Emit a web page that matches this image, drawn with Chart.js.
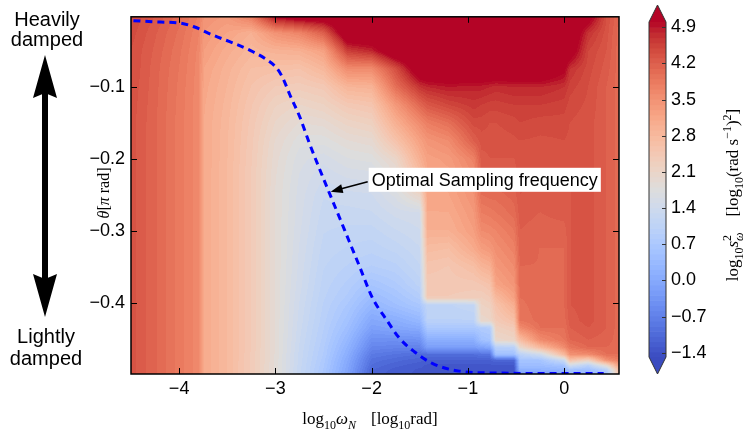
<!DOCTYPE html>
<html>
<head>
<meta charset="utf-8">
<script src="https://cdn.jsdelivr.net/npm/chart.js@4/dist/chart.umd.min.js"></script>
<style>
html,body{margin:0;padding:0;background:#fff;}
#wrap{position:relative;width:744px;height:430px;}
#main{position:absolute;left:0;top:0;}
#cbar{position:absolute;left:600px;top:0;}
</style>
</head>
<body>
<div id="wrap">
<canvas id="main" width="744" height="430"></canvas>
<canvas id="cbar" width="144" height="430"></canvas>
</div>
<script>
// grid of log10 s_w^2 : nodes along log10 wN and theta
const xNodes=[-4.5,-4.25,-4.0,-3.8,-3.74,-3.5,-3.25,-3.0,-2.75,-2.5,-2.25,-2.0,-1.75,-1.5,-1.42,-1.2,-0.94,-0.86,-0.77,-0.71,-0.52,-0.46,-0.25,0.0,0.06,0.25,0.44,0.57];
const yNodes=[0,-0.025,-0.05,-0.075,-0.1,-0.125,-0.15,-0.175,-0.2,-0.225,-0.25,-0.275,-0.3,-0.325,-0.35,-0.375,-0.393,-0.403,-0.425,-0.435,-0.452,-0.462,-0.472,-0.48,-0.487,-0.493,-0.5];
// one column per xNode, top (theta=0) to bottom
const sGrid=[
 [4.5,4.45,4.4,4.4,4.38,4.36,4.35,4.35,4.35,4.35,4.35,4.35,4.35,4.35,4.35,4.35,4.35,4.35,4.35,4.35,4.35,4.35,4.35,4.35,4.35,4.35,4.35],
 [4.3,4.22,4.18,4.15,4.14,4.13,4.12,4.12,4.12,4.12,4.12,4.12,4.12,4.12,4.12,4.12,4.12,4.12,4.12,4.12,4.12,4.12,4.12,4.12,4.12,4.12,4.12],
 [4.05,3.98,3.93,3.9,3.88,3.87,3.86,3.86,3.86,3.86,3.86,3.86,3.86,3.86,3.86,3.86,3.86,3.86,3.86,3.86,3.86,3.86,3.86,3.86,3.86,3.86,3.86],
 [3.8,3.72,3.68,3.66,3.65,3.64,3.64,3.64,3.64,3.64,3.64,3.64,3.64,3.64,3.64,3.64,3.64,3.64,3.64,3.64,3.64,3.64,3.64,3.64,3.64,3.64,3.64],
 [3.5,3.4,3.3,3.2,3.15,3.12,3.1,3.1,3.1,3.1,3.1,3.1,3.1,3.1,3.1,3.1,3.1,3.1,3.1,3.1,3.1,3.1,3.1,3.1,3.1,3.1,3.1],
 [3.4,3.2,3.05,2.95,2.9,2.86,2.83,2.82,2.81,2.8,2.8,2.8,2.8,2.8,2.8,2.8,2.8,2.8,2.8,2.8,2.8,2.8,2.8,2.8,2.8,2.8,2.8],
 [3.9,3.0,2.85,2.7,2.6,2.52,2.47,2.44,2.42,2.4,2.4,2.4,2.4,2.4,2.4,2.4,2.4,2.4,2.4,2.4,2.4,2.4,2.39,2.39,2.38,2.38,2.38],
 [5.2,3.5,2.95,2.65,2.4,2.22,2.1,2.0,1.95,1.92,1.9,1.9,1.9,1.9,1.9,1.9,1.9,1.9,1.9,1.9,1.9,1.9,1.89,1.89,1.88,1.88,1.88],
 [5.5,3.7,3.0,2.6,2.35,2.1,1.9,1.75,1.65,1.6,1.57,1.55,1.53,1.5,1.48,1.45,1.42,1.4,1.37,1.35,1.32,1.3,1.28,1.27,1.26,1.25,1.25],
 [5.5,4.2,3.25,2.85,2.45,2.2,1.95,1.75,1.55,1.42,1.32,1.27,1.22,1.17,1.12,1.07,1.03,1.0,0.95,0.92,0.87,0.83,0.8,0.76,0.73,0.7,0.68],
 [5.5,5.5,4.6,3.6,2.9,2.45,2.15,1.9,1.7,1.52,1.38,1.27,1.18,1.1,1.0,0.88,0.78,0.7,0.55,0.47,0.3,0.2,0.1,0.02,-0.03,-0.07,-0.1],
 [5.5,5.5,4.8,3.6,2.95,2.55,2.25,1.97,1.75,1.55,1.4,1.3,1.17,1.05,0.9,0.62,0.4,0.28,-0.02,-0.15,-0.45,-0.6,-0.8,-0.92,-1.0,-1.08,-1.12],
 [5.5,5.5,5.5,4.4,4.0,3.4,3.0,2.6,2.1,1.85,1.65,1.45,1.3,1.15,0.98,0.78,0.6,0.5,0.1,-0.05,-0.45,-0.65,-0.9,-1.05,-1.15,-1.22,-1.25],
 [5.5,5.5,5.5,5.4,4.7,4.1,3.6,3.25,3.0,2.7,2.1,1.5,1.4,1.3,1.2,1.05,0.85,0.7,0.3,0.05,-0.4,-0.65,-1.0,-1.15,-1.25,-1.3,-1.3],
 [5.5,5.5,5.5,5.5,4.8,4.3,3.8,3.45,3.25,3.2,3.15,3.1,3.0,2.75,2.55,2.45,2.4,1.1,1.0,0.7,0.1,-0.2,-1.0,-1.2,-1.3,-1.3,-1.3],
 [5.5,5.5,5.5,5.5,4.9,4.5,4.0,3.6,3.35,3.25,3.2,3.1,3.0,2.7,2.5,2.45,2.4,1.1,1.0,0.7,0.1,-0.2,-1.0,-1.2,-1.3,-1.3,-1.3],
 [5.5,5.5,5.5,5.5,4.85,4.65,4.45,4.2,3.75,3.6,3.5,3.4,3.3,3.1,2.7,2.45,2.35,1.2,1.0,0.7,0.1,-0.2,-1.0,-1.2,-1.3,-1.3,-1.3],
 [5.5,5.5,5.5,5.5,4.85,4.6,4.45,4.35,4.25,4.15,4.0,3.8,3.6,3.3,2.9,2.5,2.3,2.2,2.05,0.8,0.5,-0.1,-0.9,-1.2,-1.3,-1.3,-1.3],
 [5.5,5.5,5.5,5.5,4.8,4.55,4.4,4.35,4.3,4.2,4.05,3.85,3.65,3.4,3.0,2.6,2.4,2.25,2.1,0.85,0.6,0.0,-0.9,-1.2,-1.3,-1.3,-1.3],
 [5.5,5.5,5.5,5.5,4.75,4.55,4.4,4.35,4.3,4.2,4.05,3.9,3.7,3.55,3.4,3.2,2.8,2.6,2.4,2.25,2.05,0.95,0.5,-1.1,-1.3,-1.3,-1.3],
 [5.5,5.5,5.5,5.5,4.8,4.6,4.45,4.38,4.3,4.25,4.15,4.05,3.9,3.75,3.6,3.45,3.25,3.05,2.65,2.4,2.15,1.0,0.5,-1.1,-1.3,-1.3,-1.3],
 [5.5,5.5,5.5,5.5,4.8,4.6,4.5,4.4,4.35,4.35,4.3,4.25,4.2,4.15,4.1,4.05,4.0,3.95,3.9,3.6,2.7,2.0,1.0,0.6,0.45,0.2,-0.2],
 [5.5,5.5,5.5,5.5,4.8,4.6,4.45,4.38,4.35,4.3,4.25,4.2,4.15,4.1,4.1,4.1,4.1,4.1,4.05,4.0,3.6,2.8,1.4,0.6,0.45,0.2,-0.2],
 [5.5,5.5,5.5,5.1,4.7,4.55,4.45,4.4,4.35,4.3,4.3,4.25,4.15,4.1,4.1,4.1,4.1,4.1,4.05,4.0,3.9,3.6,2.8,1.3,0.6,0.3,-0.1],
 [5.5,5.5,5.3,4.7,4.55,4.45,4.4,4.38,4.35,4.3,4.3,4.3,4.3,4.3,4.3,4.3,4.3,4.3,4.25,4.2,4.1,3.9,3.5,2.6,1.5,0.6,0.3],
 [5.3,4.7,4.5,4.45,4.4,4.38,4.35,4.35,4.35,4.35,4.35,4.35,4.35,4.35,4.35,4.35,4.35,4.35,4.35,4.3,4.2,4.1,3.6,2.2,1.0,0.5,0.2],
 [4.4,4.35,4.3,4.25,4.2,4.2,4.2,4.2,4.2,4.2,4.2,4.2,4.2,4.2,4.2,4.2,4.2,4.2,4.2,4.2,4.15,4.1,4.0,3.5,2.0,1.0,0.5],
 [4.1,4.05,4.05,4.05,4.05,4.05,4.05,4.05,4.05,4.05,4.05,4.05,4.05,4.05,4.05,4.05,4.05,4.05,4.05,4.05,4.05,4.05,4.0,3.8,3.3,2.8,2.6]
];

// optimal sampling frequency curve
const optX=[-4.475,-4.196,-3.989,-3.854,-3.647,-3.44,-3.233,-3.078,-2.985,-2.923,-2.851,-2.747,-2.644,-2.54,-2.437,-2.333,-2.23,-2.126,-1.992,-1.846,-1.711,-1.556,-1.37,-1.09,-0.676,-0.055,0.411];
const optY=[-0.0078,-0.0098,-0.0112,-0.0159,-0.028,-0.0388,-0.051,-0.0631,-0.0739,-0.0874,-0.1104,-0.1414,-0.1792,-0.2143,-0.2481,-0.2818,-0.3155,-0.3493,-0.3931,-0.4235,-0.4492,-0.468,-0.4842,-0.495,-0.4977,-0.4984,-0.4984];

const xTicks=[-4,-3,-2,-1,0];
const yTicks=[-0.4,-0.3,-0.2,-0.1];
const cbTicks=[-1.4,-0.7,0.0,0.7,1.4,2.1,2.8,3.5,4.2,4.9];
const cbMin=-1.48, cbMax=5.0, nLev=65;

const annLabel='Optimal Sampling frequency';
const annText={x:-2.02,y:-0.229};
const annTip={x:-2.425,y:-0.2455};

const SANS='"Liberation Sans", Arial, sans-serif';
const SERIF='"Liberation Serif", "DejaVu Serif", serif';

// coolwarm
const cw=[[59,76,192],[68,90,204],[77,104,215],[87,117,225],[98,130,234],[108,142,241],[119,154,247],[130,165,251],[141,176,254],[152,185,255],[163,194,255],[174,201,253],[184,208,249],[194,213,244],[204,217,238],[213,219,230],[221,221,221],[229,216,209],[236,211,197],[241,204,185],[245,196,173],[247,187,160],[247,177,148],[247,166,135],[244,154,123],[241,141,111],[236,127,99],[229,112,88],[222,96,77],[213,80,66],[203,62,56],[192,40,47],[180,4,38]];
function coolwarm(t){
 t=Math.max(0,Math.min(1,t));
 const f=t*32,i=Math.min(31,Math.floor(f)),r=f-i,a=cw[i],b=cw[i+1];
 return [a[0]+(b[0]-a[0])*r,a[1]+(b[1]-a[1])*r,a[2]+(b[2]-a[2])*r];
}
const levColors=[];
for(let k=0;k<nLev;k++) levColors.push(coolwarm((k+0.5)/nLev));
function levelColor(v){
 if(v>=cbMax) return cw[32];
 if(v<cbMin) return cw[0];
 const k=Math.min(nLev-1,Math.floor((v-cbMin)/(cbMax-cbMin)*nLev));
 return levColors[k];
}
const rgb=c=>'rgb('+c.map(Math.round).join(',')+')';

function bracket(nodes,v){
 const n=nodes.length;
 if(v<=nodes[0]) return [0,0];
 if(v>=nodes[n-1]) return [n-2,1];
 let i=0; while(nodes[i+1]<v) i++;
 return [i,(v-nodes[i])/(nodes[i+1]-nodes[i])];
}
const yDepth=yNodes.map(v=>-v);

const minus=v=>(v<0?'\u2212':'')+Math.abs(v);

const heatmap={
 id:'heatmap',
 beforeDatasetsDraw(chart){
  const {ctx,chartArea:a,scales:{x,y}}=chart;
  const L=Math.round(a.left),T=Math.round(a.top),W=Math.round(a.right)-L,H=Math.round(a.bottom)-T;
  const img=ctx.createImageData(W,H),d=img.data;
  const xb=[],yb=[];
  for(let i=0;i<W;i++) xb.push(bracket(xNodes,x.getValueForPixel(L+i+0.5)));
  for(let j=0;j<H;j++) yb.push(bracket(yDepth,-y.getValueForPixel(T+j+0.5)));
  for(let j=0;j<H;j++){
   const [r,fy]=yb[j];
   for(let i=0;i<W;i++){
    const [c,fx]=xb[i],c0=sGrid[c],c1=sGrid[c+1];
    const v=(c0[r]*(1-fy)+c0[r+1]*fy)*(1-fx)+(c1[r]*(1-fy)+c1[r+1]*fy)*fx;
    const col=levelColor(v),p=(j*W+i)*4;
    d[p]=col[0];d[p+1]=col[1];d[p+2]=col[2];d[p+3]=255;
   }
  }
  ctx.putImageData(img,L,T);
 }
};

function line(ctx,x1,y1,x2,y2){ctx.beginPath();ctx.moveTo(x1,y1);ctx.lineTo(x2,y2);ctx.stroke();}

// math-ish label: runs of [text, kind, advance]
function drawMath(ctx,runs,cx,cy,rot,size){
 const small=Math.round(size*0.7);
 const fontOf=k=>(k.startsWith('i')?'italic ':'')+((k.includes('sub')||k.includes('sup'))?small:size)+'px '+SERIF;
 const dy=k=>k.includes('sub')?size*0.28:(k.includes('sup')?-size*0.42:0);
 ctx.save();
 ctx.translate(cx,cy);ctx.rotate(rot);
 ctx.fillStyle='#000';ctx.textBaseline='alphabetic';ctx.textAlign='left';
 let total=0;
 const ws=runs.map(([t,k,adv])=>{
  if(k==='sp'){total+=t;return t;}
  ctx.font=fontOf(k);const w=ctx.measureText(t).width;
  if(adv!==false) total+=w;
  return w;
 });
 let px=-total/2;
 runs.forEach(([t,k,adv],i)=>{
  if(k==='sp'){px+=t;return;}
  ctx.font=fontOf(k);ctx.fillText(t,px,dy(k));
  if(adv!==false) px+=ws[i];
 });
 ctx.restore();
}

const decor={
 id:'decor',
 afterDatasetsDraw(chart){
  const {ctx,chartArea:a,scales:{x,y}}=chart;
  ctx.save();
  // annotation
  const tx=x.getPixelForValue(annText.x),ty=y.getPixelForValue(annText.y);
  ctx.font='18px '+SANS;
  const w=ctx.measureText(annLabel).width;
  ctx.fillStyle='#fff';
  ctx.fillRect(tx-1,ty-12,w+6,24);
  ctx.fillStyle='#000';ctx.textBaseline='middle';ctx.textAlign='left';
  ctx.fillText(annLabel,tx+2,ty+1);
  const hx=x.getPixelForValue(annTip.x),hy=y.getPixelForValue(annTip.y);
  const sx=tx-2,sy=ty+2,ang=Math.atan2(hy-sy,hx-sx);
  ctx.strokeStyle='#000';ctx.lineWidth=1.6;
  line(ctx,sx,sy,hx-11*Math.cos(ang),hy-11*Math.sin(ang));
  ctx.beginPath();
  ctx.moveTo(hx,hy);
  ctx.lineTo(hx-12*Math.cos(ang)+4.5*Math.sin(ang),hy-12*Math.sin(ang)-4.5*Math.cos(ang));
  ctx.lineTo(hx-12*Math.cos(ang)-4.5*Math.sin(ang),hy-12*Math.sin(ang)+4.5*Math.cos(ang));
  ctx.closePath();ctx.fillStyle='#000';ctx.fill();
  // inward ticks on all four sides
  ctx.lineWidth=1;
  xTicks.forEach(v=>{const p=Math.round(x.getPixelForValue(v))+0.5;line(ctx,p,a.bottom,p,a.bottom-6);line(ctx,p,a.top,p,a.top+6);});
  yTicks.forEach(v=>{const p=Math.round(y.getPixelForValue(v))+0.5;line(ctx,a.left,p,a.left+6,p);line(ctx,a.right,p,a.right-6,p);});
  ctx.lineWidth=1.5;
  ctx.strokeRect(a.left,a.top,a.right-a.left,a.bottom-a.top);
  ctx.restore();
 },
 afterDraw(chart){
  const ctx=chart.ctx;
  ctx.save();
  ctx.fillStyle='#000';ctx.textAlign='center';ctx.textBaseline='alphabetic';
  ctx.font='20px '+SANS;
  ctx.fillText('Heavily',47,26);
  ctx.fillText('damped',47,46);
  ctx.fillText('Lightly',46,343);
  ctx.fillText('damped',46,365);
  // double headed arrow
  ctx.fillRect(42,92,6,188);
  ctx.beginPath();ctx.moveTo(45,55);ctx.lineTo(57,98);ctx.lineTo(45,93);ctx.lineTo(33,98);ctx.closePath();ctx.fill();
  ctx.beginPath();ctx.moveTo(45,317);ctx.lineTo(57,274);ctx.lineTo(45,279);ctx.lineTo(33,274);ctx.closePath();ctx.fill();
  // axis titles
  drawMath(ctx,[['log','r'],['10','sub'],['\u03c9','i'],['N','isub'],[15,'sp'],['[log','r'],['10','sub'],['rad]','r']],370,424,0,17);
  drawMath(ctx,[['\u03b8','i'],['[','r'],['\u03c0','i'],[' rad]','r']],109,193,-Math.PI/2,16);
  ctx.restore();
 }
};

new Chart(document.getElementById('main'),{
 type:'line',
 data:{datasets:[{
  data:optX.map((v,i)=>({x:v,y:optY[i]})),
  borderColor:'#0000ff',borderWidth:3,borderDash:[7,5],
  pointRadius:0,fill:false,cubicInterpolationMode:'monotone'
 }]},
 options:{
  responsive:false,animation:false,events:[],
  layout:{padding:{top:6,right:125,left:0,bottom:0}},
  plugins:{legend:{display:false},tooltip:{enabled:false}},
  scales:{
   x:{type:'linear',min:-4.5,max:0.57,
    afterBuildTicks:s=>{s.ticks=xTicks.map(v=>({value:v}));},
    afterFit:s=>{s.height=56;},
    grid:{display:false,drawTicks:false},border:{display:false},
    ticks:{padding:4,color:'#000',font:{family:SANS,size:18},maxRotation:0,callback:v=>minus(v)}},
   y:{type:'linear',min:-0.499,max:-0.0024,
    afterBuildTicks:s=>{s.ticks=yTicks.map(v=>({value:v}));},
    afterFit:s=>{s.width=131;},
    grid:{display:false,drawTicks:false},border:{display:false},
    ticks:{padding:6,color:'#000',font:{family:SANS,size:18},callback:v=>'\u2212'+Math.abs(v).toFixed(1)}}
  }
 },
 plugins:[heatmap,decor]
});

const colorbar={
 id:'colorbar',
 beforeDatasetsDraw(chart){
  const {ctx,chartArea:a,scales:{y}}=chart;
  ctx.save();
  for(let k=0;k<nLev;k++){
   const lo=cbMin+(cbMax-cbMin)*k/nLev,hi=cbMin+(cbMax-cbMin)*(k+1)/nLev;
   const p0=y.getPixelForValue(lo),p1=y.getPixelForValue(hi);
   ctx.fillStyle=rgb(levColors[k]);
   ctx.fillRect(a.left,p1,a.right-a.left,p0-p1+0.6);
  }
  const mid=(a.left+a.right)/2;
  ctx.fillStyle=rgb(cw[32]);
  ctx.beginPath();ctx.moveTo(a.left,a.top);ctx.lineTo(mid,a.top-17);ctx.lineTo(a.right,a.top);ctx.closePath();ctx.fill();
  ctx.fillStyle=rgb(cw[0]);
  ctx.beginPath();ctx.moveTo(a.left,a.bottom);ctx.lineTo(mid,a.bottom+17);ctx.lineTo(a.right,a.bottom);ctx.closePath();ctx.fill();
  ctx.strokeStyle='#333';ctx.lineWidth=1;
  ctx.beginPath();
  ctx.moveTo(a.left,a.top);ctx.lineTo(mid,a.top-17);ctx.lineTo(a.right,a.top);
  ctx.lineTo(a.right,a.bottom);ctx.lineTo(mid,a.bottom+17);ctx.lineTo(a.left,a.bottom);ctx.closePath();
  ctx.stroke();
  cbTicks.forEach(v=>{const p=Math.round(y.getPixelForValue(v))+0.5;line(ctx,a.right-4,p,a.right,p);});
  ctx.restore();
 },
 afterDraw(chart){
  drawMath(chart.ctx,[['log','r'],['10','sub'],['s','i'],['2','sup',false],['\u03c9','isub'],[16,'sp'],['[log','r'],['10','sub'],['(rad s','r'],['\u22121','sup'],[')','r'],['2','sup'],[']','r']],138,195,-Math.PI/2,17);
 }
};

new Chart(document.getElementById('cbar'),{
 type:'scatter',
 data:{datasets:[{data:[]}]},
 options:{
  responsive:false,animation:false,events:[],
  layout:{padding:{left:49,top:22,bottom:73,right:0}},
  plugins:{legend:{display:false},tooltip:{enabled:false}},
  scales:{
   x:{display:false,min:0,max:1},
   y:{position:'right',min:cbMin,max:cbMax,
    afterBuildTicks:s=>{s.ticks=cbTicks.map(v=>({value:v}));},
    afterFit:s=>{s.width=78;},
    grid:{display:false,drawTicks:false},border:{display:false},
    ticks:{padding:5,color:'#000',font:{family:SANS,size:18},callback:v=>(v<0?'\u2212':'')+Math.abs(v).toFixed(1)}}
  }
 },
 plugins:[colorbar]
});
</script>
</body>
</html>
